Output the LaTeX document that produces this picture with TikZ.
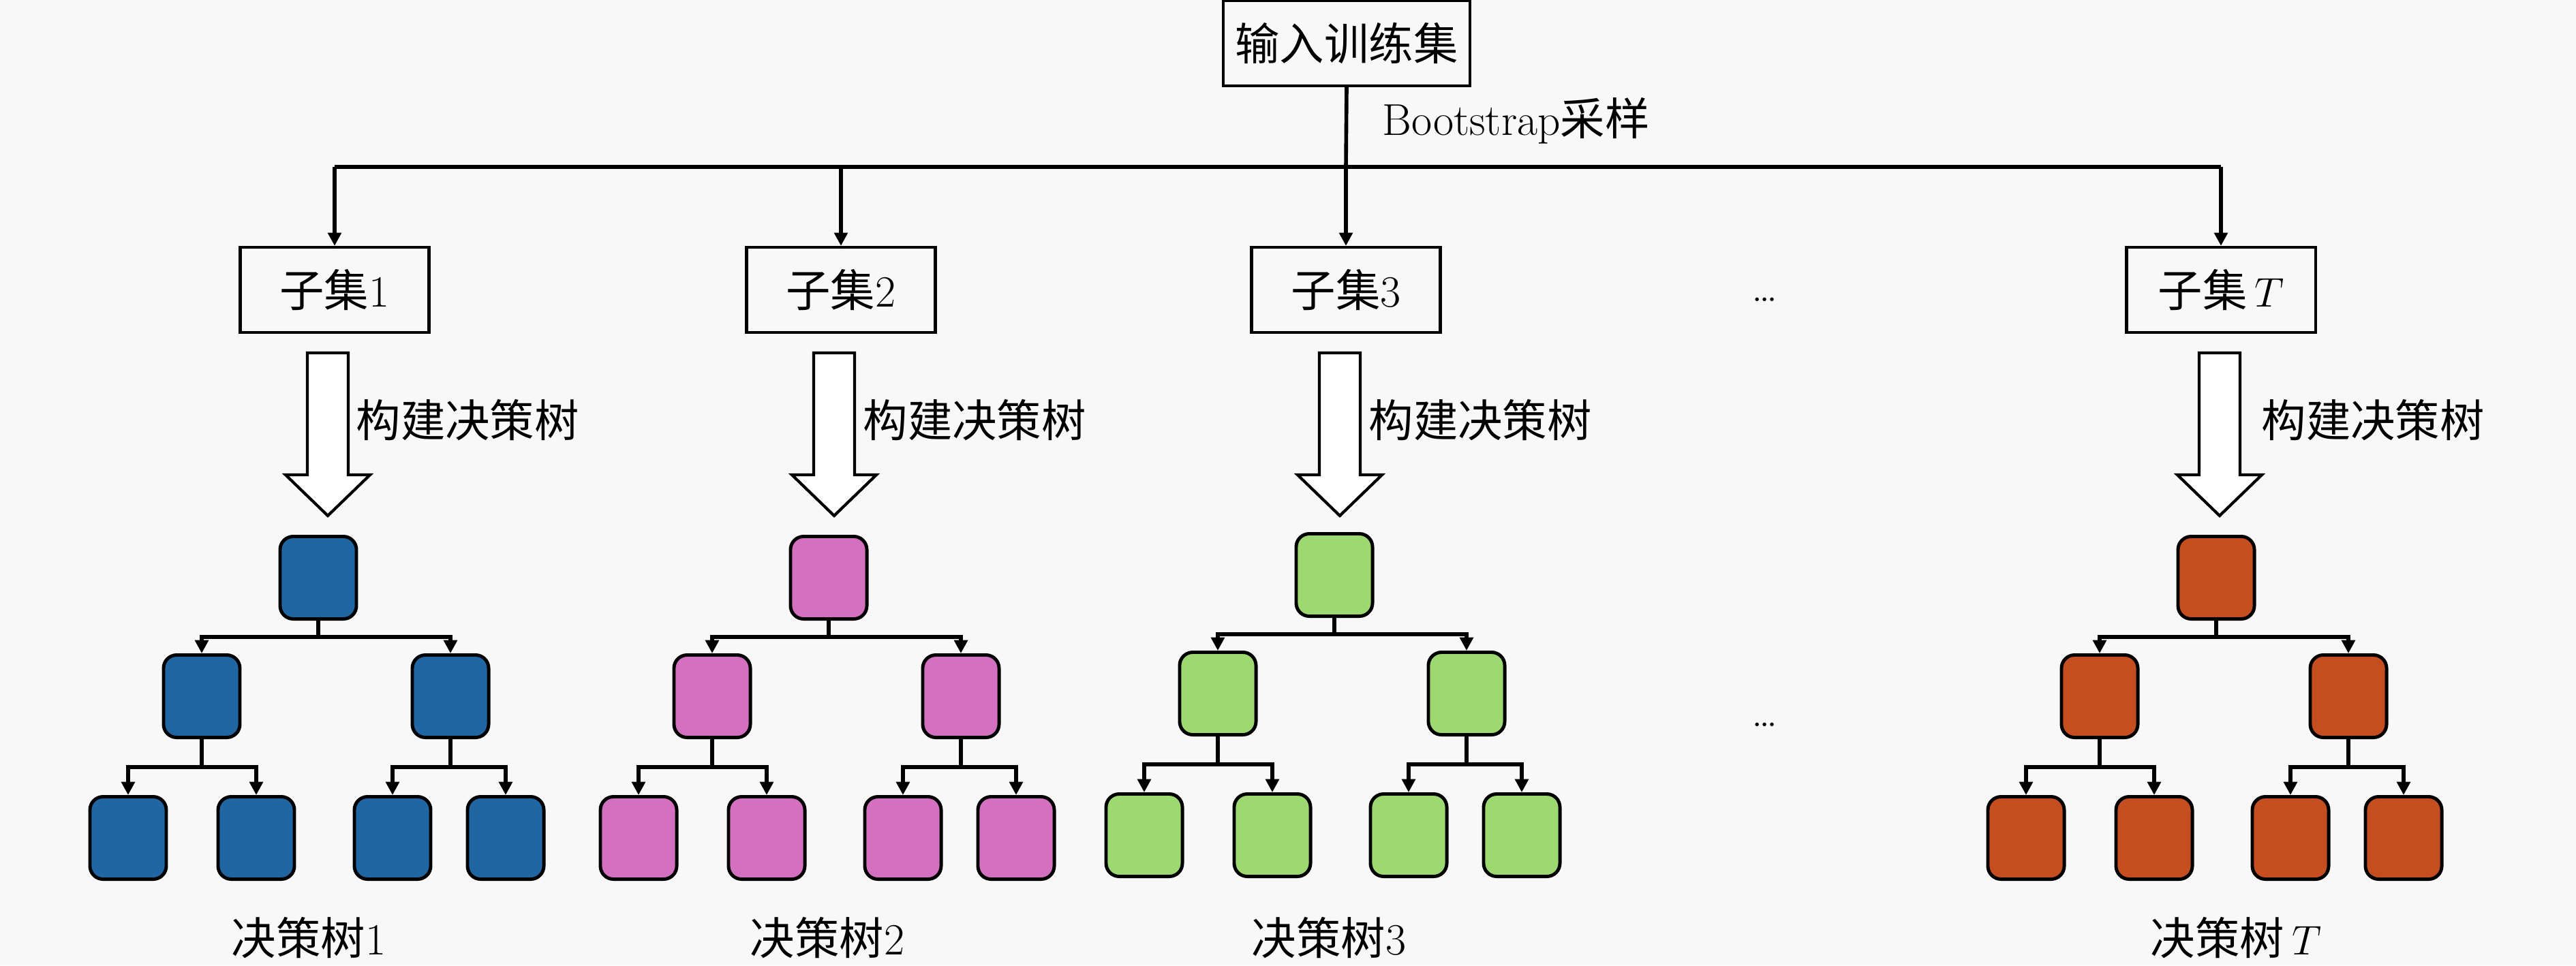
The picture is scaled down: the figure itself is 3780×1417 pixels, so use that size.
\documentclass[tikz,border=0pt]{standalone}
\usepackage{fontspec}
\newfontfamily\cjk{Noto Sans CJK SC}
\usetikzlibrary{arrows.meta,calc}
\definecolor{bgc}{HTML}{F8F8F8}
\definecolor{tblue}{HTML}{1F66A3}
\definecolor{tpink}{HTML}{D470C0}
\definecolor{tgreen}{HTML}{9ED870}
\definecolor{torange}{HTML}{C44E20}
\newcommand\treebranch[2]{\draw[conn] (#1.south) -- ($(#1.south)!0.5!(#1.south|-#2.north)$) -| (#2.north);}
\begin{document}
\begin{tikzpicture}[x=0.01cm,y=-0.01cm,
  every node/.style={font=\fontsize{18.6}{22}\selectfont, inner sep=0pt},
  sbox/.style={draw, line width=1.2pt, minimum width=2.77cm, minimum height=1.25cm},
  leaf/.style={draw, line width=1.4pt, rounded corners=5.5pt, minimum width=1.12cm, minimum height=1.21cm},
  conn/.style={line width=1.7pt, -{Triangle[length=5.5pt,width=5.5pt]}},
  bus/.style={line width=1.6pt},
  hollow/.style={draw, fill=white, line width=1.2pt, line join=miter}]
\fill[bgc] (0,0) rectangle (3780,1417);
\useasboundingbox (0,0) rectangle (3780,1417);

\node[sbox, minimum width=3.62cm] (top) at (1976,63.5) {\cjk 输入训练集};
\coordinate (bus) at (1975,245);
\node[anchor=base west] (bs) at (2028,198) {Bootstrap{\cjk 采样}};

\foreach \i/\sx/\ax/\rx/\lx/\bx/\dy/\col/\num in
  {1/491/481/467/522/453/0/tblue/1,
   2/1234/1224/1216/1266/1214/0/tpink/2,
   3/1975/1966/1958/2008/1950/4/tgreen/3,
   T/3259/3257/3252/3318/3281/0/torange/\,$T$}{
  \node[sbox] (s\i) at (\sx,425.5) {{\cjk 子集}\num};
  \draw[conn, line width=1.6pt] (s\i.north |- bus) -- (s\i.north);
  \draw[hollow] (\ax-30,518) -- (\ax+30,518) -- (\ax+30,697) -- (\ax+62,697)
     -- (\ax,757) -- (\ax-62,697) -- (\ax-30,697) -- cycle;
  \node[anchor=west] (l\i) at (\lx,617) {\cjk 构建决策树};
  \node[leaf, fill=\col] (r\i) at (\rx,848-\dy) {};
  \node[leaf, fill=\col] (a\i) at (\rx-171,1022-\dy) {};
  \node[leaf, fill=\col] (b\i) at (\rx+194,1022-\dy) {};
  \node[leaf, fill=\col] (c\i) at (\rx-279,1230-\dy) {};
  \node[leaf, fill=\col] (d\i) at (\rx-91,1230-\dy) {};
  \node[leaf, fill=\col] (e\i) at (\rx+109,1230-\dy) {};
  \node[leaf, fill=\col] (f\i) at (\rx+275,1230-\dy) {};
  \treebranch{r\i}{a\i}
  \treebranch{r\i}{b\i}
  \treebranch{a\i}{c\i}
  \treebranch{a\i}{d\i}
  \treebranch{b\i}{e\i}
  \treebranch{b\i}{f\i}
  \node (t\i) at (\bx,1377) {{\cjk 决策树}\num};
}
\draw[bus] (top.south) -- (bus);
\draw[bus] (s1.north |- bus) -- (sT.north |- bus);
\node[anchor=base] (dots1) at (2590,442) {\ldots};
\node[anchor=base] (dots2) at (2590,1066) {\ldots};
\end{tikzpicture}
\end{document}
